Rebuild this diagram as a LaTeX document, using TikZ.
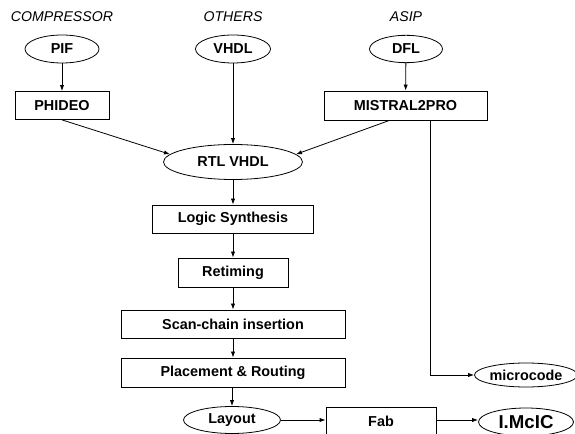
\documentclass[tikz,border=0pt]{standalone}
\usepackage{fontspec}
\setmainfont{Liberation Sans}
\usetikzlibrary{shapes.geometric,arrows.meta,calc}
\begin{document}
\begin{tikzpicture}[x=0.75pt,y=-0.75pt,
  every node/.style={font=\fontsize{10.8}{12}\selectfont\bfseries, inner sep=0pt},
  oval/.style={draw, ellipse, line width=0.6pt},
  stepbox/.style={draw, rectangle, line width=0.6pt},
  lab/.style={font=\fontsize{10.6}{12}\selectfont\itshape},
  conn/.style={line width=0.6pt, -{Latex[length=4.5pt,width=3.2pt]}}
]
\useasboundingbox (0,0) rectangle (575,434);
\begin{scope}
\clip (0,0) rectangle (575,434);
% labels
\node[lab] (lcomp) at (62,17) {COMPRESSOR};
\node[lab] (loth) at (233,17) {OTHERS};
\node[lab] (lasip) at (406,17) {ASIP};
% top ellipses
\node[oval, minimum width=55.5pt, minimum height=21pt] (pif) at (62,49) {PIF};
\node[oval, minimum width=56.25pt, minimum height=21pt] (vhdl) at (233,49) {VHDL};
\node[oval, minimum width=54.75pt, minimum height=20.5pt] (dfl) at (406,49) {DFL};
% boxes
\node[stepbox, minimum width=70.5pt, minimum height=21pt] (phideo) at (62,105.5) {PHIDEO};
\node[stepbox, minimum width=122.25pt, minimum height=21.75pt] (mistral) at (405.5,105.5) {MISTRAL2PRO};
\node[oval, minimum width=104.25pt, minimum height=26.25pt] (rtl) at (233,162) {RTL VHDL};
\node[stepbox, minimum width=120.75pt, minimum height=21pt] (logic) at (233,219) {Logic Synthesis};
\node[stepbox, minimum width=82.5pt, minimum height=21.75pt] (retim) at (233,272.5) {Retiming};
\node[stepbox, minimum width=168pt, minimum height=21pt] (scan) at (233,324) {Scan-chain insertion};
\node[stepbox, minimum width=168pt, minimum height=21.75pt] (place) at (233,372.5) {Placement \& Routing};
\node[oval, minimum width=72.75pt, minimum height=20.25pt] (layout) at (232,420) {Layout};
\node[stepbox, minimum width=82.5pt, minimum height=21pt] (fab) at (381,421) {Fab};
\node[oval, minimum width=71.25pt, minimum height=18pt] (micro) at (526,375) {microcode};
\node[oval, minimum width=71.25pt, minimum height=21pt, font=\fontsize{14}{15}\selectfont\bfseries] (imcic) at (526,422) {I.McIC};
% connectors
\draw[conn] (pif) -- (phideo);
\draw[conn] (dfl) -- (mistral);
\draw[conn] (vhdl) -- (rtl);
\draw[conn] (phideo.south) -- (rtl.173);
\draw[conn] ($(mistral.south)+(-16,0)$) -- (rtl.7);
\draw[conn] ($(mistral.south)+(25,0)$) |- (micro.west);
\draw[conn] (rtl) -- (logic);
\draw[conn] (logic) -- (retim);
\draw[conn] (retim) -- (scan);
\draw[conn] (scan) -- (place);
\draw[conn] (place.south -| layout) -- (layout);
\draw[conn] (layout.east) -- (layout.east -| fab.west);
\draw[conn] (layout.east -| fab.east) -- (layout.east -| imcic.west);
\end{scope}
\end{tikzpicture}
\end{document}
